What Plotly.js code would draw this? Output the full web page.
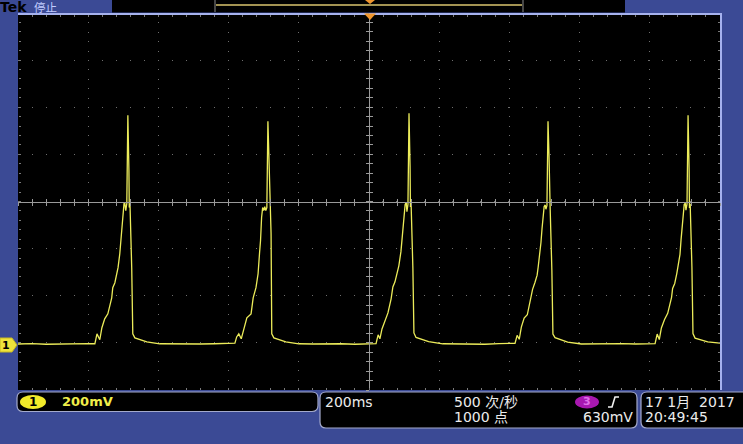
<!DOCTYPE html>
<html><head><meta charset="utf-8">
<script src="https://cdn.plot.ly/plotly-3.0.1.min.js"></script>
<style>html,body{margin:0;padding:0;background:#3b4a95;overflow:hidden}</style>
</head><body><div id="chart" style="width:743px;height:444px"></div>
<script>
// ---- waveform data: time in ms (screen centre = 0), channel 1 in mV ----
const gap0T = [-1000,-960,-920,-880,-840,-800];
const gap0V = [8,10,7,9,8,10];
const pulse1T = [-781,-775,-767,-761,-753,-744,-733,-730,-724,-718,-715,-710,-707,-704,-701,-698,-696,-693,-690,-687,-684,-683,-681,-676,-673,-667,-633,-596];
const pulse1V = [9,51,26,77,115,136,204,247,268,306,332,391,447,502,574,604,608,574,604,979,745,587,604,332,51,34,17,9];
const gap1T = [-560,-520,-480,-440,-400];
const gap1V = [8,10,8,9,11];
const pulse2T = [-382,-377,-371,-364,-356,-348,-336,-330,-322,-316,-312,-309,-306,-303,-300,-297,-294,-291,-288,-285,-282,-279,-277,-271,-237,-200];
const pulse2V = [12,38,51,30,77,119,136,204,247,306,391,447,545,587,574,591,574,587,953,817,617,477,51,34,17,9];
const gap2T = [-160,-120,-80,-40,0];
const gap2V = [8,10,9,7,10];
const pulse3T = [20,26,31,37,46,54,63,68,74,80,85,91,94,97,100,103,106,108,111,114,117,118,120,125,128,134,170,210];
const pulse3V = [10,47,30,72,110,140,200,250,272,310,340,400,455,510,580,600,610,570,600,987,760,590,600,330,55,36,18,9];
const gap3T = [250,290,330,370,400];
const gap3V = [8,9,7,10,9];
const pulse4T = [416,422,428,434,442,451,460,466,473,479,482,487,490,493,496,499,502,504,507,510,513,514,516,521,524,530,566,605];
const pulse4V = [11,45,28,80,118,132,196,240,270,300,335,395,440,498,565,592,598,580,596,953,800,600,590,320,50,35,16,8];
const gap4T = [640,680,720,760,800];
const gap4V = [9,7,10,8,9];
const pulse5T = [815,821,827,833,842,851,862,865,871,877,880,886,889,892,895,898,901,903,906,909,912,913,915,920,923,929,965,1000];
const pulse5V = [10,50,27,76,112,138,206,244,265,308,330,388,450,505,578,600,606,576,602,979,750,585,603,335,52,33,17,12];

// ---- scope settings ----
const timePerDiv = 200;     // ms/div
const voltPerDiv = 200;     // mV/div
const centreLevel = 612.8;  // mV at screen centre (channel offset)
const hDivs = 10, vDivs = 8;

const timeMs = [].concat(gap0T,pulse1T,gap1T,pulse2T,gap2T,pulse3T,gap3T,pulse4T,gap4T,pulse5T);
const chan1mV = [].concat(gap0V,pulse1V,gap1V,pulse2V,gap2V,pulse3V,gap3V,pulse4V,gap4V,pulse5V);

const xRange = [-timePerDiv*hDivs/2, timePerDiv*hDivs/2];
const yRange = [centreLevel - voltPerDiv*vDivs/2, centreLevel + voltPerDiv*vDivs/2];

// pixel helpers for decorations
const L=18, R=720, T=13, B=390;
const px = x => (x-L)/(R-L);
const py = y => (B-y)/(B-T);
const poly = pts => 'M' + pts.map(p => px(p[0])+','+py(p[1])).join(' L') + ' Z';
function rrect(x0,y0,x1,y1,r){
  const P=(x,y)=>px(x)+','+py(y);
  return 'M'+P(x0+r,y0)+' L'+P(x1-r,y0)+' Q'+P(x1,y0)+' '+P(x1,y0+r)+
    ' L'+P(x1,y1-r)+' Q'+P(x1,y1)+' '+P(x1-r,y1)+' L'+P(x0+r,y1)+
    ' Q'+P(x0,y1)+' '+P(x0,y1-r)+' L'+P(x0,y0+r)+' Q'+P(x0,y0)+' '+P(x0+r,y0)+' Z';
}

const gridCol = '#6e6e6e', crossCol = '#9a9a9a', edgeCol = '#7a7a7a';
const empty = (xa, ya) => ({x:[], y:[], xaxis:xa, yaxis:ya, type:'scatter', mode:'lines', hoverinfo:'skip', showlegend:false});

const traces = [
  {x: timeMs, y: chan1mV, type:'scatter', mode:'lines', line:{color:'#ecec5a', width:1.3}, showlegend:false, hoverinfo:'skip'},
  empty('x2','y'), empty('x3','y'), empty('x4','y'),
  empty('x','y2'), empty('x','y3'), empty('x','y4')
];

const base = {range: xRange, showticklabels:false, zeroline:false, fixedrange:true, showgrid:false};
const baseY = {range: yRange, showticklabels:false, zeroline:false, fixedrange:true, showgrid:false};
const txt = (text, x, y, anchor, size, color, family) => ({text, xref:'paper', yref:'paper', x:px(x), y:py(y),
  xanchor:anchor, yanchor:'middle', showarrow:false, borderpad:0, font:Object.assign({size, color}, family ? {family} : {})});

const layout = {
  width:743, height:444,
  margin:{l:L, r:743-R, t:T, b:444-B, pad:0},
  paper_bgcolor:'#3b4a95', plot_bgcolor:'#000000',
  font:{family:'DejaVu Sans, Noto Sans CJK SC', color:'#e8e8e8'},
  showlegend:false,
  xaxis: Object.assign({}, base, {
    anchor:'free', position:0.5, showline:true, linecolor:crossCol, linewidth:1,
    showgrid:true, gridcolor:gridCol, gridwidth:1, griddash:'1px,8.4px',
    tick0:0, dtick:timePerDiv, ticks:'inside', ticklen:3, tickcolor:crossCol,
    minor:{tick0:0, dtick:timePerDiv/5, ticks:'inside', ticklen:3, tickcolor:crossCol, showgrid:false}
  }),
  xaxis2: Object.assign({}, base, {overlaying:'x', anchor:'free', position:0.5, showline:false,
    tick0:0, dtick:timePerDiv/5, ticks:'outside', ticklen:3, tickcolor:crossCol}),
  xaxis3: Object.assign({}, base, {overlaying:'x', anchor:'free', position:1, side:'top', showline:true, linecolor:'#a6b2ee', linewidth:1.5,
    tick0:0, dtick:timePerDiv/5, ticks:'inside', ticklen:2, tickcolor:edgeCol}),
  xaxis4: Object.assign({}, base, {overlaying:'x', anchor:'free', position:0, side:'bottom', showline:false,
    tick0:0, dtick:timePerDiv/5, ticks:'inside', ticklen:2, tickcolor:edgeCol}),
  yaxis: Object.assign({}, baseY, {
    anchor:'free', position:0.5, showline:true, linecolor:crossCol, linewidth:1,
    showgrid:true, gridcolor:gridCol, gridwidth:1, griddash:'1px,13px',
    tick0:centreLevel, dtick:voltPerDiv, ticks:'inside', ticklen:3, tickcolor:crossCol,
    minor:{tick0:centreLevel, dtick:voltPerDiv/5, ticks:'inside', ticklen:3, tickcolor:crossCol, showgrid:false}
  }),
  yaxis2: Object.assign({}, baseY, {overlaying:'y', anchor:'free', position:0.5, showline:false,
    tick0:centreLevel, dtick:voltPerDiv/5, ticks:'outside', ticklen:3, tickcolor:crossCol}),
  yaxis3: Object.assign({}, baseY, {overlaying:'y', anchor:'free', position:1, side:'right', showline:true, linecolor:'#a6b2ee', linewidth:1.5,
    tick0:centreLevel, dtick:voltPerDiv/5, ticks:'inside', ticklen:2, tickcolor:edgeCol}),
  yaxis4: Object.assign({}, baseY, {overlaying:'y', anchor:'free', position:0, side:'left', showline:false,
    tick0:centreLevel, dtick:voltPerDiv/5, ticks:'inside', ticklen:2, tickcolor:edgeCol}),
  shapes: [
    // top status strip
    {type:'rect', xref:'paper', yref:'paper', x0:px(112), x1:px(625), y0:py(0), y1:py(12.5), fillcolor:'#000', line:{width:0}},
    {type:'line', xref:'paper', yref:'paper', x0:px(216), x1:px(522), y0:py(5), y1:py(5), line:{color:'#a39352', width:2}},
    {type:'line', xref:'paper', yref:'paper', x0:px(215), x1:px(215), y0:py(0), y1:py(12), line:{color:'#8c8c8c', width:1}},
    {type:'line', xref:'paper', yref:'paper', x0:px(523), x1:px(523), y0:py(0), y1:py(12), line:{color:'#8c8c8c', width:1}},
    {type:'path', xref:'paper', yref:'paper', path:poly([[365,0],[375,0],[370,4]]), fillcolor:'#f0962e', line:{width:0}},
    {type:'path', xref:'paper', yref:'paper', path:poly([[364,13.5],[376,13.5],[370,20]]), fillcolor:'#f0962e', line:{width:0}},
    // channel 1 ground marker
    {type:'path', xref:'paper', yref:'paper', path:poly([[0,338],[12,338],[17,345],[12,352],[0,352]]), fillcolor:'#efe33c', line:{color:'#c8b820', width:1}},
    // bottom panels
    {type:'path', xref:'paper', yref:'paper', path:rrect(17,392,318,411.5,6), fillcolor:'#000', line:{color:'#a4aacc', width:1.2}},
    {type:'path', xref:'paper', yref:'paper', path:rrect(320,392,637,428,6), fillcolor:'#000', line:{color:'#a4aacc', width:1.2}},
    {type:'path', xref:'paper', yref:'paper', path:rrect(641,392,752,428,6), fillcolor:'#000', line:{color:'#a4aacc', width:1.2}},
    {type:'circle', xref:'paper', yref:'paper', x0:px(20), x1:px(46), y0:py(409), y1:py(395), fillcolor:'#f2ea2a', line:{width:0}},
    {type:'circle', xref:'paper', yref:'paper', x0:px(575), x1:px(599), y0:py(408.5), y1:py(395.5), fillcolor:'#a818b0', line:{width:0}},
    {type:'path', xref:'paper', yref:'paper', path:'M'+px(608)+','+py(407)+' L'+px(612)+','+py(407)+' L'+px(615)+','+py(397)+' L'+px(619)+','+py(397), line:{color:'#f0f0f0', width:1.6}}
  ],
  annotations: [
    txt('<b>Tek</b>', -1, 6.5, 'left', 14, '#000'),
    txt('停止', 33, 6.5, 'left', 11.5, '#c2ccff', 'Noto Sans CJK SC'),
    txt('<b>1</b>', 6, 345, 'center', 11, '#000'),
    txt('<b>1</b>', 33, 402, 'center', 12, '#000'),
    txt('<b>200mV</b>', 61, 402, 'left', 13, '#f0ee4a'),
    txt('200ms', 324, 402, 'left', 14, '#ececec'),
    txt('500 次/秒', 453, 402, 'left', 14, '#ececec'),
    txt('1000 点', 453, 417, 'left', 14, '#ececec'),
    txt('<b>3</b>', 587, 402, 'center', 11, '#e070e8'),
    txt('630mV', 634, 417, 'right', 14, '#ececec'),
    txt('17 1月  2017', 644, 402, 'left', 14, '#ececec'),
    txt('20:49:45', 644, 417, 'left', 14, '#ececec')
  ]
};

Plotly.newPlot('chart', traces, layout, {staticPlot:true, displayModeBar:false});
</script>
</body></html>
